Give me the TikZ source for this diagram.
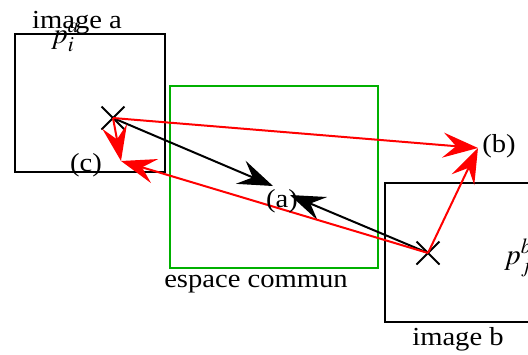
\documentclass[tikz,border=0pt]{standalone}
\usepackage{mathptmx}
\usepackage{fontspec}
\setmainfont{Liberation Serif}
\usepackage{graphicx}
\usepackage{tikz}
\usetikzlibrary{arrows.meta, shapes.misc}
\definecolor{figgreen}{HTML}{00B000}
\definecolor{figred}{HTML}{FF0000}
\newcommand{\wide}[1]{\scalebox{1.1}[1]{#1}}

\begin{document}
\begin{tikzpicture}[x=1pt, y=-1pt,
  every node/.style={font=\fontsize{26}{30}\selectfont, inner sep=0pt},
  box/.style={draw, line width=2pt, minimum width=#1},
  box/.default=150pt,
  pointmark/.style={draw, cross out, line width=2pt, minimum size=21pt},
  fl/.style={-{Stealth[length=35pt, width=25pt, inset=13pt]}, line width=2pt},
]
  \clip (0,0) rectangle (528,354);

  % Images and common space
  \node[box, minimum height=138pt] (imga) at (90,103) {};
  \node[box=208pt, minimum height=182pt, draw=figgreen] (commun) at (273.5,177) {};
  \node[box=175pt, minimum height=139pt] (imgb) at (472.5,252.5) {};

  % Texts
  \node[anchor=base] (tima) at (77,28) {\wide{image a}};
  \node[anchor=base] (tcom) at (256,287) {\wide{espace commun}};
  \node[anchor=base] (timb) at (458,345) {\wide{image b}};
  \node[anchor=base west, font=\fontsize{29}{32}\selectfont] (pia) at (51,43) {$p_i^a$};
  \node[anchor=base west, font=\fontsize{29}{32}\selectfont] (pjb) at (504,264) {$p_j^b$};

  % Points
  \node[pointmark] (xa) at (113,118) {};
  \node[pointmark] (xb) at (428,253) {};
  \coordinate (ca1) at (273,186);
  \coordinate (ca2) at (290,195);
  \coordinate (cb) at (478,148);
  \coordinate (cc) at (121,161);

  % Arrows
  \draw[fl] (xa.center) -- (ca1);
  \draw[fl] (xb.center) -- (ca2);
  \draw[fl, figred] (xa.center) -- (cb);
  \draw[fl, figred] (xb.center) -- (cb);
  \draw[fl, figred] (xa.center) -- (cc);
  \draw[fl, figred] (xb.center) -- (cc);

  % Labels
  \node[anchor=base] (la) at (282,207) {\wide{(a)}};
  \node[anchor=base] (lb) at (499,152) {\wide{(b)}};
  \node[anchor=base] (lc) at (86,171) {\wide{(c)}};
\end{tikzpicture}
\end{document}
